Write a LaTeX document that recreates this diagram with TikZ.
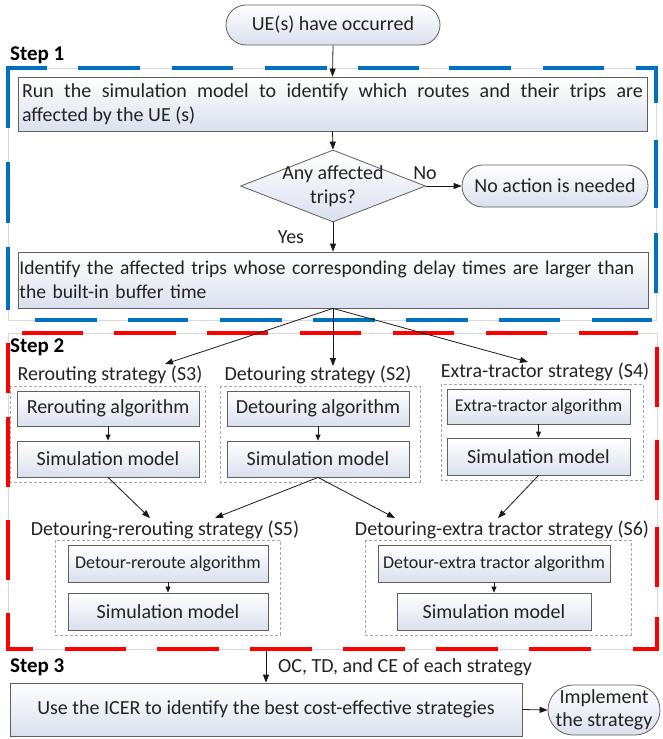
\documentclass[tikz,border=0pt]{standalone}
\usepackage{fontspec}
\setmainfont{Carlito}
\usetikzlibrary{shapes.geometric,arrows.meta}
\definecolor{bluefr}{RGB}{0,112,192}
\definecolor{redfr}{RGB}{255,0,0}
\definecolor{boxfill}{RGB}{218,224,238}
\definecolor{txt}{RGB}{35,35,35}
\definecolor{bord}{RGB}{95,95,95}
\tikzset{
  box/.style={draw=bord, line width=0.8pt, top color=white, bottom color=boxfill,
    text=txt, inner sep=0pt, font=\fontsize{20}{24.5}\selectfont},
  smallbox/.style={box, font=\fontsize{18}{22}\selectfont},
  term/.style={box},
  grp/.style={draw=black!35, dash pattern=on 3pt off 2pt, line width=0.6pt},
  lab/.style={text=txt, inner sep=0pt, font=\fontsize{20}{24}\selectfont},
  steplab/.style={text=black, inner sep=0pt, anchor=west, font=\bfseries\fontsize{21}{24}\selectfont},
  arr/.style={-{Triangle[length=8pt,width=6pt]}, line width=0.8pt, draw=black!90},
  sarr/.style={-{Triangle[length=6pt,width=5pt]}, line width=0.8pt, draw=black!90},
  bseg/.style={draw=bluefr, line width=3.2pt},
  rseg/.style={draw=redfr, line width=3.8pt},
  faint/.style={draw=black!15, line width=0.5pt}
}
\begin{document}
\begin{tikzpicture}[x=1pt,y=-1pt]
\useasboundingbox[fill=white] (0,0) rectangle (662,739);

% ---------- frames ----------
\draw[faint] (8,68) rectangle (656,320);
\draw[faint] (8,333) rectangle (657,649);
% blue frame (Step 1)
\draw[bseg] (8,128) -- (8,68) -- (47,68);
\foreach \a/\b in {78/140,172/233,265/327,358/419,449/511,543/604}
  \draw[bseg] (\a,68) -- (\b,68);
\draw[bseg] (636,68) -- (656,68) -- (656,103);
\foreach \a/\b in {162/223,247/310} \draw[bseg] (8,\a) -- (8,\b);
\foreach \a/\b in {140/208,233/293} \draw[bseg] (656,\a) -- (656,\b);
\foreach \a/\b in {35/97,128/188,220/282,313/375,406/468,499/560,592/652}
  \draw[bseg] (\a,320) -- (\b,320);
% red frame (Step 2)
\foreach \a/\b in {22/83,114/176,207/268,300/361,393/454,486/547,579/638}
  \draw[rseg] (\a,333) -- (\b,333);
\foreach \a/\b in {343/393,417/487,520/580} \draw[rseg] (8,\a) -- (8,\b);
\draw[rseg] (8,613) -- (8,649) -- (33,649);
\foreach \a/\b in {347/407,440/500,527/587} \draw[rseg] (657,\a) -- (657,\b);
\draw[rseg] (657,617) -- (657,649) -- (633,649);
\foreach \a/\b in {65/126,157/219,250/312,343/405,436/498,529/591}
  \draw[rseg] (\a,649) -- (\b,649);

% ---------- Step 1 ----------
\node[term, minimum width=214pt, minimum height=40pt, rounded corners=20pt] (ue) at (333,25) {UE(s) have occurred};
\node[steplab] (s1) at (10,55) {Step 1};
\node[box, minimum width=629pt, minimum height=54pt, text width=621pt, align=justify] (b1) at (332.5,104)
  {Run the simulation model to identify which routes and their trips are\linebreak affected by the UE (s)};
\node[draw=bord, line width=0.8pt, diamond, minimum width=185pt, minimum height=72pt, inner sep=0pt,
  top color=white, bottom color=boxfill] (dia) at (333,186) {};
\node[lab, align=center] (diat) at (333,186) {Any affected\\trips?};
\node[term, minimum width=186pt, minimum height=42pt, rounded corners=21pt] (na) at (555,186) {No action is needed};
\node[lab] (no) at (425,173) {No};
\node[lab] (yes) at (291,237) {Yes};
\node[box, minimum width=630pt, minimum height=56pt, text width=627pt, align=left,
  font=\fontsize{19.6}{24.5}\selectfont] (b2) at (333,280)
  {Identify the affected trips whose corresponding delay times are larger than\\the built-in buffer time};

\draw[arr] (ue.south) -- (b1.north);
\draw[arr] (b1.south) -- (dia.north);
\draw[arr] (dia.east) -- (na.west);
\draw[arr] (dia.south) -- (b2.north);

% ---------- Step 2 ----------
\node[steplab] (s2) at (10,347) {Step 2};
% S3
\draw[grp] (10,386) rectangle (205,482);
\node[lab] (l3) at (110,375) {Rerouting strategy (S3)};
\node[box, minimum width=182pt, minimum height=35pt] (a3) at (108,408.5) {Rerouting algorithm};
\node[box, minimum width=182pt, minimum height=36pt] (m3) at (108,459) {Simulation model};
% S2
\draw[grp] (220,386) rectangle (420,482);
\node[lab] (l2) at (318,375) {Detouring strategy (S2)};
\node[box, minimum width=182pt, minimum height=35pt] (a2) at (318,408.5) {Detouring algorithm};
\node[box, minimum width=182pt, minimum height=36pt] (m2) at (318,459) {Simulation model};
% S4
\draw[grp] (441,384) rectangle (643,480);
\node[lab] (l4) at (545,372) {Extra-tractor strategy (S4)};
\node[smallbox, minimum width=183pt, minimum height=35pt] (a4) at (538.5,406.5) {Extra-tractor algorithm};
\node[box, minimum width=183pt, minimum height=37pt] (m4) at (538.5,456.5) {Simulation model};
% S5
\draw[grp] (55,540) rectangle (280,635);
\node[lab] (l5) at (165,530) {Detouring-rerouting strategy (S5)};
\node[smallbox, minimum width=200pt, minimum height=37pt] (a5) at (168,563.5) {Detour-reroute algorithm};
\node[box, minimum width=200pt, minimum height=37pt] (m5) at (168,611.5) {Simulation model};
% S6
\draw[grp] (365,540) rectangle (631,635);
\node[lab] (l6) at (502,530) {Detouring-extra tractor strategy (S6)};
\node[smallbox, minimum width=232pt, minimum height=37pt] (a6) at (494,563.5) {Detour-extra tractor algorithm};
\node[box, minimum width=194pt, minimum height=37pt] (m6) at (494,611.5) {Simulation model};

\coordinate (t3) at (165,364);
\coordinate (t2) at (333,366);
\coordinate (t4) at (528,362);
\draw[arr] (b2.south) -- (t3);
\draw[arr] (b2.south) -- (t2);
\draw[arr] (b2.south) -- (t4);

\draw[sarr] (a3.south) -- (m3.north);
\draw[sarr] (a2.south) -- (m2.north);
\draw[sarr] (a4.south) -- (m4.north);
\draw[sarr] (a5.south) -- (m5.north);
\draw[sarr] (a6.south) -- (m6.north);

\coordinate (u5a) at (150,518);
\coordinate (u5b) at (215,518);
\coordinate (u6a) at (395,518);
\coordinate (u6b) at (498,518);
\draw[arr] (m3.south) -- (u5a);
\draw[arr] (m2.south) -- (u5b);
\draw[arr] (m2.south) -- (u6a);
\draw[arr] (m4.south) -- (u6b);

% ---------- Step 3 ----------
\node[steplab] (s3) at (10,667) {Step 3};
\coordinate (o) at (266,649);
\node[lab, anchor=west] (oc) at (278,667) {OC, TD, and CE of each strategy};
\node[box, minimum width=512pt, minimum height=53pt] (b3) at (266,709.5) {Use the ICER to identify the best cost-effective strategies};
\node[term, minimum width=112pt, minimum height=50pt, rounded corners=25pt, align=center,
  font=\fontsize{20}{23}\selectfont] (impl) at (604,710) {Implement\\the strategy};
\draw[arr] (o) -- (b3.north);
\draw[arr] (b3.east) -- (impl.west);
\end{tikzpicture}
\end{document}
